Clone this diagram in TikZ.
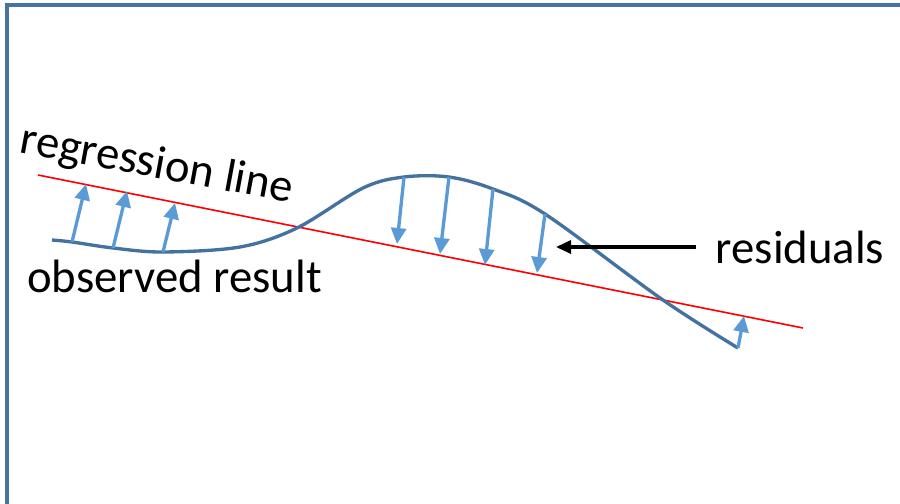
\documentclass[tikz,border=0pt]{standalone}
\usepackage{fontspec}
\setmainfont{Carlito}
\usetikzlibrary{arrows.meta}
\definecolor{framecol}{RGB}{70,114,164}
\definecolor{curvecol}{RGB}{68,114,160}
\definecolor{residcol}{RGB}{91,155,213}

\begin{document}
\begin{tikzpicture}[
  framebox/.style={draw=framecol, line width=1.8pt},
  curveline/.style={draw=curvecol, line width=1.9pt},
  regline/.style={draw=red, line width=0.9pt},
  resid/.style={draw=residcol, line width=1.9pt, -{Triangle[length=0.32cm,width=0.3cm]}},
  pointer/.style={draw=black, line width=1.8pt, -{Triangle[length=0.3cm,width=0.26cm]}},
  lbl/.style={font=\fontsize{26.6}{30}\selectfont, inner sep=0pt, anchor=base}
]
  \useasboundingbox (0,0) rectangle (18,10.06);
  \draw[framebox] (0.14,-0.2) -- (0.14,9.96) -- (18,9.96);

  \coordinate (rl0) at (0.76,6.56);
  \coordinate (rl1) at (16.06,3.50);
  \draw[regline] (rl0) -- (rl1);

  \draw[curveline] plot[smooth, tension=0.55] coordinates {
    (1.04,5.26) (1.44,5.22) (2.26,5.10) (3.26,5.02) (4.80,5.12) (5.94,5.50)
    (7.26,6.30) (8.08,6.52) (8.98,6.52) (9.86,6.28) (10.90,5.78)
    (13.26,4.06) (14.76,3.10)};

  \coordinate (o1) at (1.44,5.22);
  \coordinate (o2) at (2.26,5.10);
  \coordinate (o3) at (3.26,5.02);
  \coordinate (o4) at (8.08,6.52);
  \coordinate (o5) at (8.98,6.52);
  \coordinate (o6) at (9.86,6.28);
  \coordinate (o7) at (10.90,5.78);
  \coordinate (o8) at (14.76,3.10);

  \coordinate (r1) at (1.72,6.38);
  \coordinate (r2) at (2.54,6.24);
  \coordinate (r3) at (3.50,6.00);
  \coordinate (r4) at (7.94,5.18);
  \coordinate (r5) at (8.80,4.98);
  \coordinate (r6) at (9.70,4.76);
  \coordinate (r7) at (10.74,4.60);
  \coordinate (r8) at (14.88,3.74);

  \foreach \i in {1,...,8}
    \draw[resid] (o\i) -- (r\i);

  \node[lbl, rotate=-10.5] (reglbl) at (3.09,6.51) {regression line};
  \node[lbl] (obslbl) at (3.49,4.22) {observed result};
  \node[lbl] (reslbl) at (16.0,4.80) {residuals};

  \coordinate (restip) at (11.12,5.12);
  \draw[pointer] (13.92,5.12) -- (restip);
\end{tikzpicture}
\end{document}
